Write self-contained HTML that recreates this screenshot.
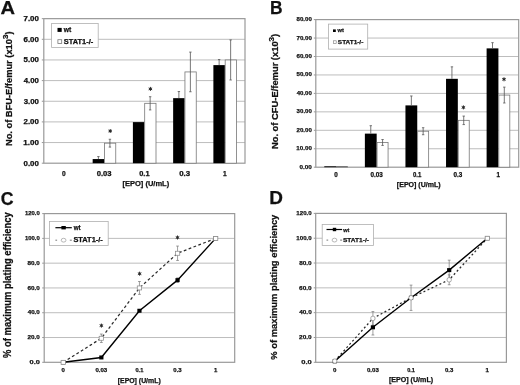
<!DOCTYPE html><html><head><meta charset="utf-8"><style>html,body{margin:0;padding:0;background:#fff;overflow:hidden}svg{display:block;filter:blur(0.3px)}text{font-family:"Liberation Sans",sans-serif;font-weight:bold;fill:#111;stroke:#111;stroke-width:0.25px}</style></head><body>
<svg width="520" height="385" viewBox="0 0 520 385">
<rect width="520" height="385" fill="#fff"/>
<text x="0.45" y="13.60" font-size="17.8" textLength="14.53" lengthAdjust="spacingAndGlyphs" fill="#000" >A</text>
<text x="269.99" y="13.90" font-size="18" textLength="12.55" lengthAdjust="spacingAndGlyphs" fill="#000" >B</text>
<text x="0.72" y="204.50" font-size="18.9" textLength="12.81" lengthAdjust="spacingAndGlyphs" fill="#000" >C</text>
<text x="269.18" y="204.00" font-size="18" textLength="13.66" lengthAdjust="spacingAndGlyphs" fill="#000" >D</text>
<line x1="43.80" y1="39.30" x2="245.00" y2="39.30" stroke="#bdbdbd" stroke-width="1"/>
<line x1="43.80" y1="59.95" x2="245.00" y2="59.95" stroke="#bdbdbd" stroke-width="1"/>
<line x1="43.80" y1="80.60" x2="245.00" y2="80.60" stroke="#bdbdbd" stroke-width="1"/>
<line x1="43.80" y1="101.25" x2="245.00" y2="101.25" stroke="#bdbdbd" stroke-width="1"/>
<line x1="43.80" y1="121.90" x2="245.00" y2="121.90" stroke="#bdbdbd" stroke-width="1"/>
<line x1="43.80" y1="142.55" x2="245.00" y2="142.55" stroke="#bdbdbd" stroke-width="1"/>
<line x1="41.80" y1="18.65" x2="43.80" y2="18.65" stroke="#999999" stroke-width="1"/>
<line x1="41.80" y1="39.30" x2="43.80" y2="39.30" stroke="#999999" stroke-width="1"/>
<line x1="41.80" y1="59.95" x2="43.80" y2="59.95" stroke="#999999" stroke-width="1"/>
<line x1="41.80" y1="80.60" x2="43.80" y2="80.60" stroke="#999999" stroke-width="1"/>
<line x1="41.80" y1="101.25" x2="43.80" y2="101.25" stroke="#999999" stroke-width="1"/>
<line x1="41.80" y1="121.90" x2="43.80" y2="121.90" stroke="#999999" stroke-width="1"/>
<line x1="41.80" y1="142.55" x2="43.80" y2="142.55" stroke="#999999" stroke-width="1"/>
<line x1="41.80" y1="163.20" x2="43.80" y2="163.20" stroke="#999999" stroke-width="1"/>
<rect x="43.80" y="18.65" width="201.20" height="144.55" fill="none" stroke="#999999" stroke-width="1.2"/>
<text x="23.54" y="165.57" font-size="6.6" textLength="15.33" lengthAdjust="spacingAndGlyphs" fill="#111" >0.00</text>
<text x="23.35" y="144.92" font-size="6.6" textLength="15.53" lengthAdjust="spacingAndGlyphs" fill="#111" >1.00</text>
<text x="23.58" y="124.27" font-size="6.6" textLength="15.29" lengthAdjust="spacingAndGlyphs" fill="#111" >2.00</text>
<text x="23.67" y="103.62" font-size="6.6" textLength="15.20" lengthAdjust="spacingAndGlyphs" fill="#111" >3.00</text>
<text x="23.73" y="82.97" font-size="6.6" textLength="15.14" lengthAdjust="spacingAndGlyphs" fill="#111" >4.00</text>
<text x="23.61" y="62.32" font-size="6.6" textLength="15.26" lengthAdjust="spacingAndGlyphs" fill="#111" >5.00</text>
<text x="23.56" y="41.67" font-size="6.6" textLength="15.31" lengthAdjust="spacingAndGlyphs" fill="#111" >6.00</text>
<text x="23.51" y="21.02" font-size="6.6" textLength="15.36" lengthAdjust="spacingAndGlyphs" fill="#111" >7.00</text>
<rect x="92.66" y="159.07" width="11.50" height="4.13" fill="#000"/>
<rect x="104.46" y="143.17" width="11.30" height="20.03" fill="#fff" stroke="#777" stroke-width="0.8"/>
<rect x="132.90" y="122.11" width="11.50" height="41.09" fill="#000"/>
<rect x="144.70" y="103.31" width="11.30" height="59.88" fill="#fff" stroke="#777" stroke-width="0.8"/>
<rect x="173.14" y="98.15" width="11.50" height="65.05" fill="#000"/>
<rect x="184.94" y="71.93" width="11.30" height="91.27" fill="#fff" stroke="#777" stroke-width="0.8"/>
<rect x="213.38" y="65.11" width="11.50" height="98.09" fill="#000"/>
<rect x="225.18" y="59.95" width="11.30" height="103.25" fill="#fff" stroke="#777" stroke-width="0.8"/>
<line x1="98.41" y1="156.59" x2="98.41" y2="159.07" stroke="#555" stroke-width="0.8"/>
<line x1="97.21" y1="156.59" x2="99.61" y2="156.59" stroke="#555" stroke-width="0.8"/>
<line x1="109.91" y1="139.25" x2="109.91" y2="147.09" stroke="#555" stroke-width="0.8"/>
<line x1="108.71" y1="139.25" x2="111.11" y2="139.25" stroke="#555" stroke-width="0.8"/>
<line x1="108.71" y1="147.09" x2="111.11" y2="147.09" stroke="#555" stroke-width="0.8"/>
<line x1="150.15" y1="96.71" x2="150.15" y2="109.92" stroke="#555" stroke-width="0.8"/>
<line x1="148.95" y1="96.71" x2="151.35" y2="96.71" stroke="#555" stroke-width="0.8"/>
<line x1="148.95" y1="109.92" x2="151.35" y2="109.92" stroke="#555" stroke-width="0.8"/>
<line x1="178.89" y1="91.54" x2="178.89" y2="98.15" stroke="#555" stroke-width="0.8"/>
<line x1="177.69" y1="91.54" x2="180.09" y2="91.54" stroke="#555" stroke-width="0.8"/>
<line x1="190.39" y1="52.10" x2="190.39" y2="91.75" stroke="#555" stroke-width="0.8"/>
<line x1="189.19" y1="52.10" x2="191.59" y2="52.10" stroke="#555" stroke-width="0.8"/>
<line x1="189.19" y1="91.75" x2="191.59" y2="91.75" stroke="#555" stroke-width="0.8"/>
<line x1="219.13" y1="59.54" x2="219.13" y2="65.11" stroke="#555" stroke-width="0.8"/>
<line x1="217.93" y1="59.54" x2="220.33" y2="59.54" stroke="#555" stroke-width="0.8"/>
<line x1="230.63" y1="39.92" x2="230.63" y2="79.98" stroke="#555" stroke-width="0.8"/>
<line x1="229.43" y1="39.92" x2="231.83" y2="39.92" stroke="#555" stroke-width="0.8"/>
<line x1="229.43" y1="79.98" x2="231.83" y2="79.98" stroke="#555" stroke-width="0.8"/>
<g stroke="#2a2a2a" stroke-width="1.0"><line x1="110.20" y1="129.00" x2="110.20" y2="133.00"/><line x1="108.46" y1="130.00" x2="111.94" y2="132.00"/><line x1="108.46" y1="132.00" x2="111.94" y2="130.00"/></g>
<circle cx="110.20" cy="131.00" r="1.0" fill="#2a2a2a"/>
<g stroke="#2a2a2a" stroke-width="1.0"><line x1="150.40" y1="86.90" x2="150.40" y2="90.90"/><line x1="148.66" y1="87.90" x2="152.14" y2="89.90"/><line x1="148.66" y1="89.90" x2="152.14" y2="87.90"/></g>
<circle cx="150.40" cy="88.90" r="1.0" fill="#2a2a2a"/>
<text x="62.09" y="176.00" font-size="6.6" textLength="3.67" lengthAdjust="spacingAndGlyphs" fill="#111" >0</text>
<text x="96.71" y="176.00" font-size="6.6" textLength="14.88" lengthAdjust="spacingAndGlyphs" fill="#111" >0.03</text>
<text x="139.21" y="176.00" font-size="6.6" textLength="10.30" lengthAdjust="spacingAndGlyphs" fill="#111" >0.1</text>
<text x="179.18" y="176.00" font-size="6.6" textLength="10.89" lengthAdjust="spacingAndGlyphs" fill="#111" >0.3</text>
<text x="222.93" y="176.00" font-size="6.6" textLength="3.67" lengthAdjust="spacingAndGlyphs" fill="#111" >1</text>
<text x="122.43" y="186.00" font-size="7.5" textLength="46.80" lengthAdjust="spacingAndGlyphs" fill="#111" >[EPO] (U/mL)</text>
<rect x="51.6" y="23.5" width="46.6" height="24.0" fill="#fff" stroke="#b0b0b0" stroke-width="0.8"/>
<rect x="57.5" y="27.9" width="4.2" height="4.0" fill="#000"/>
<rect x="57.9" y="39.7" width="3.8" height="3.7" fill="#fff" stroke="#777" stroke-width="0.8"/>
<text x="63.87" y="31.90" font-size="6.6" textLength="7.46" lengthAdjust="spacingAndGlyphs" fill="#111" >wt</text>
<text x="63.89" y="43.60" font-size="6.3" textLength="29.34" lengthAdjust="spacingAndGlyphs" fill="#111" >STAT1-/-</text>
<g transform="translate(11.70,145.45) rotate(-90) scale(1.0831,1)"><text x="-0.58" y="0" font-size="8.6">No. of BFU-E/femur (x10<tspan font-size="7.4" dy="-3.8">3</tspan><tspan dy="3.8">)</tspan></text></g>
<line x1="315.80" y1="38.05" x2="518.70" y2="38.05" stroke="#bdbdbd" stroke-width="1"/>
<line x1="315.80" y1="56.50" x2="518.70" y2="56.50" stroke="#bdbdbd" stroke-width="1"/>
<line x1="315.80" y1="74.95" x2="518.70" y2="74.95" stroke="#bdbdbd" stroke-width="1"/>
<line x1="315.80" y1="93.40" x2="518.70" y2="93.40" stroke="#bdbdbd" stroke-width="1"/>
<line x1="315.80" y1="111.85" x2="518.70" y2="111.85" stroke="#bdbdbd" stroke-width="1"/>
<line x1="315.80" y1="130.30" x2="518.70" y2="130.30" stroke="#bdbdbd" stroke-width="1"/>
<line x1="315.80" y1="148.75" x2="518.70" y2="148.75" stroke="#bdbdbd" stroke-width="1"/>
<line x1="313.80" y1="19.60" x2="315.80" y2="19.60" stroke="#999999" stroke-width="1"/>
<line x1="313.80" y1="38.05" x2="315.80" y2="38.05" stroke="#999999" stroke-width="1"/>
<line x1="313.80" y1="56.50" x2="315.80" y2="56.50" stroke="#999999" stroke-width="1"/>
<line x1="313.80" y1="74.95" x2="315.80" y2="74.95" stroke="#999999" stroke-width="1"/>
<line x1="313.80" y1="93.40" x2="315.80" y2="93.40" stroke="#999999" stroke-width="1"/>
<line x1="313.80" y1="111.85" x2="315.80" y2="111.85" stroke="#999999" stroke-width="1"/>
<line x1="313.80" y1="130.30" x2="315.80" y2="130.30" stroke="#999999" stroke-width="1"/>
<line x1="313.80" y1="148.75" x2="315.80" y2="148.75" stroke="#999999" stroke-width="1"/>
<line x1="313.80" y1="167.20" x2="315.80" y2="167.20" stroke="#999999" stroke-width="1"/>
<rect x="315.80" y="19.60" width="202.90" height="147.60" fill="none" stroke="#999999" stroke-width="1.2"/>
<text x="299.50" y="168.72" font-size="6.15" textLength="12.41" lengthAdjust="spacingAndGlyphs" fill="#111" >0.00</text>
<text x="296.36" y="150.27" font-size="6.15" textLength="15.55" lengthAdjust="spacingAndGlyphs" fill="#111" >10.00</text>
<text x="296.54" y="131.82" font-size="6.15" textLength="15.36" lengthAdjust="spacingAndGlyphs" fill="#111" >20.00</text>
<text x="296.61" y="113.37" font-size="6.15" textLength="15.29" lengthAdjust="spacingAndGlyphs" fill="#111" >30.00</text>
<text x="296.66" y="94.92" font-size="6.15" textLength="15.24" lengthAdjust="spacingAndGlyphs" fill="#111" >40.00</text>
<text x="296.56" y="76.47" font-size="6.15" textLength="15.34" lengthAdjust="spacingAndGlyphs" fill="#111" >50.00</text>
<text x="296.52" y="58.02" font-size="6.15" textLength="15.38" lengthAdjust="spacingAndGlyphs" fill="#111" >60.00</text>
<text x="296.49" y="39.57" font-size="6.15" textLength="15.42" lengthAdjust="spacingAndGlyphs" fill="#111" >70.00</text>
<text x="296.56" y="21.12" font-size="6.15" textLength="15.35" lengthAdjust="spacingAndGlyphs" fill="#111" >80.00</text>
<rect x="324.29" y="166.28" width="11.80" height="0.92" fill="#000"/>
<rect x="336.49" y="166.46" width="11.00" height="0.74" fill="#fff" stroke="#777" stroke-width="0.8"/>
<rect x="364.87" y="133.62" width="11.80" height="33.58" fill="#000"/>
<rect x="377.07" y="142.48" width="11.00" height="24.72" fill="#fff" stroke="#777" stroke-width="0.8"/>
<rect x="405.45" y="105.39" width="11.80" height="61.81" fill="#000"/>
<rect x="417.65" y="131.22" width="11.00" height="35.98" fill="#fff" stroke="#777" stroke-width="0.8"/>
<rect x="446.03" y="78.82" width="11.80" height="88.38" fill="#000"/>
<rect x="458.23" y="120.34" width="11.00" height="46.86" fill="#fff" stroke="#777" stroke-width="0.8"/>
<rect x="486.61" y="48.38" width="11.80" height="118.82" fill="#000"/>
<rect x="498.81" y="95.06" width="11.00" height="72.14" fill="#fff" stroke="#777" stroke-width="0.8"/>
<line x1="370.77" y1="125.69" x2="370.77" y2="133.62" stroke="#555" stroke-width="0.8"/>
<line x1="369.57" y1="125.69" x2="371.97" y2="125.69" stroke="#555" stroke-width="0.8"/>
<line x1="382.57" y1="139.52" x2="382.57" y2="145.43" stroke="#555" stroke-width="0.8"/>
<line x1="381.37" y1="139.52" x2="383.77" y2="139.52" stroke="#555" stroke-width="0.8"/>
<line x1="381.37" y1="145.43" x2="383.77" y2="145.43" stroke="#555" stroke-width="0.8"/>
<line x1="411.35" y1="95.98" x2="411.35" y2="105.39" stroke="#555" stroke-width="0.8"/>
<line x1="410.15" y1="95.98" x2="412.55" y2="95.98" stroke="#555" stroke-width="0.8"/>
<line x1="423.15" y1="127.72" x2="423.15" y2="134.73" stroke="#555" stroke-width="0.8"/>
<line x1="421.95" y1="127.72" x2="424.35" y2="127.72" stroke="#555" stroke-width="0.8"/>
<line x1="421.95" y1="134.73" x2="424.35" y2="134.73" stroke="#555" stroke-width="0.8"/>
<line x1="451.93" y1="66.83" x2="451.93" y2="78.82" stroke="#555" stroke-width="0.8"/>
<line x1="450.73" y1="66.83" x2="453.13" y2="66.83" stroke="#555" stroke-width="0.8"/>
<line x1="463.73" y1="116.09" x2="463.73" y2="124.58" stroke="#555" stroke-width="0.8"/>
<line x1="462.53" y1="116.09" x2="464.93" y2="116.09" stroke="#555" stroke-width="0.8"/>
<line x1="462.53" y1="124.58" x2="464.93" y2="124.58" stroke="#555" stroke-width="0.8"/>
<line x1="492.51" y1="42.66" x2="492.51" y2="48.38" stroke="#555" stroke-width="0.8"/>
<line x1="491.31" y1="42.66" x2="493.71" y2="42.66" stroke="#555" stroke-width="0.8"/>
<line x1="504.31" y1="87.13" x2="504.31" y2="102.99" stroke="#555" stroke-width="0.8"/>
<line x1="503.11" y1="87.13" x2="505.51" y2="87.13" stroke="#555" stroke-width="0.8"/>
<line x1="503.11" y1="102.99" x2="505.51" y2="102.99" stroke="#555" stroke-width="0.8"/>
<g stroke="#2a2a2a" stroke-width="1.0"><line x1="463.40" y1="105.40" x2="463.40" y2="109.40"/><line x1="461.66" y1="106.40" x2="465.14" y2="108.40"/><line x1="461.66" y1="108.40" x2="465.14" y2="106.40"/></g>
<circle cx="463.40" cy="107.40" r="1.0" fill="#2a2a2a"/>
<g stroke="#2a2a2a" stroke-width="1.0"><line x1="504.00" y1="77.30" x2="504.00" y2="81.30"/><line x1="502.26" y1="78.30" x2="505.74" y2="80.30"/><line x1="502.26" y1="80.30" x2="505.74" y2="78.30"/></g>
<circle cx="504.00" cy="79.30" r="1.0" fill="#2a2a2a"/>
<text x="334.34" y="176.70" font-size="6.3" textLength="3.50" lengthAdjust="spacingAndGlyphs" fill="#111" >0</text>
<text x="370.52" y="176.70" font-size="6.3" textLength="12.28" lengthAdjust="spacingAndGlyphs" fill="#111" >0.03</text>
<text x="413.06" y="176.70" font-size="6.3" textLength="8.30" lengthAdjust="spacingAndGlyphs" fill="#111" >0.1</text>
<text x="453.43" y="176.70" font-size="6.3" textLength="8.78" lengthAdjust="spacingAndGlyphs" fill="#111" >0.3</text>
<text x="496.55" y="176.70" font-size="6.3" textLength="3.50" lengthAdjust="spacingAndGlyphs" fill="#111" >1</text>
<text x="396.86" y="187.00" font-size="7.0" textLength="43.74" lengthAdjust="spacingAndGlyphs" fill="#111" >[EPO] (U/mL)</text>
<rect x="328.4" y="24.1" width="39.3" height="25.0" fill="#fff" stroke="#b0b0b0" stroke-width="0.8"/>
<rect x="333.0" y="29.4" width="2.8" height="2.6" fill="#000"/>
<rect x="333.5" y="40.8" width="2.7" height="2.8" fill="#fff" stroke="#777" stroke-width="0.6"/>
<text x="337.57" y="31.90" font-size="6.2" textLength="6.35" lengthAdjust="spacingAndGlyphs" fill="#111" >wt</text>
<text x="337.87" y="44.20" font-size="6.0" textLength="25.43" lengthAdjust="spacingAndGlyphs" fill="#111" >STAT1-/-</text>
<g transform="translate(277.70,148.45) rotate(-90) scale(1.0777,1)"><text x="-0.58" y="0" font-size="8.7">No. of CFU-E/femur (x10<tspan font-size="7.4" dy="-3.6">3</tspan><tspan dy="3.6">)</tspan></text></g>
<line x1="44.20" y1="238.38" x2="234.70" y2="238.38" stroke="#bdbdbd" stroke-width="1"/>
<line x1="44.20" y1="263.17" x2="234.70" y2="263.17" stroke="#bdbdbd" stroke-width="1"/>
<line x1="44.20" y1="287.95" x2="234.70" y2="287.95" stroke="#bdbdbd" stroke-width="1"/>
<line x1="44.20" y1="312.73" x2="234.70" y2="312.73" stroke="#bdbdbd" stroke-width="1"/>
<line x1="44.20" y1="337.52" x2="234.70" y2="337.52" stroke="#bdbdbd" stroke-width="1"/>
<line x1="42.20" y1="213.60" x2="44.20" y2="213.60" stroke="#999999" stroke-width="1"/>
<line x1="42.20" y1="238.38" x2="44.20" y2="238.38" stroke="#999999" stroke-width="1"/>
<line x1="42.20" y1="263.17" x2="44.20" y2="263.17" stroke="#999999" stroke-width="1"/>
<line x1="42.20" y1="287.95" x2="44.20" y2="287.95" stroke="#999999" stroke-width="1"/>
<line x1="42.20" y1="312.73" x2="44.20" y2="312.73" stroke="#999999" stroke-width="1"/>
<line x1="42.20" y1="337.52" x2="44.20" y2="337.52" stroke="#999999" stroke-width="1"/>
<line x1="42.20" y1="362.30" x2="44.20" y2="362.30" stroke="#999999" stroke-width="1"/>
<rect x="44.20" y="213.60" width="190.50" height="148.70" fill="none" stroke="#999999" stroke-width="1.2"/>
<text x="29.56" y="363.96" font-size="6.0" textLength="10.30" lengthAdjust="spacingAndGlyphs" fill="#111" >0.0</text>
<text x="27.53" y="339.18" font-size="6.0" textLength="12.28" lengthAdjust="spacingAndGlyphs" fill="#111" >20.0</text>
<text x="27.66" y="314.40" font-size="6.0" textLength="12.15" lengthAdjust="spacingAndGlyphs" fill="#111" >40.0</text>
<text x="27.52" y="289.61" font-size="6.0" textLength="12.29" lengthAdjust="spacingAndGlyphs" fill="#111" >60.0</text>
<text x="27.55" y="264.83" font-size="6.0" textLength="12.26" lengthAdjust="spacingAndGlyphs" fill="#111" >80.0</text>
<text x="24.98" y="240.05" font-size="6.0" textLength="14.82" lengthAdjust="spacingAndGlyphs" fill="#111" >100.0</text>
<text x="24.98" y="215.26" font-size="6.0" textLength="14.82" lengthAdjust="spacingAndGlyphs" fill="#111" >120.0</text>
<line x1="101.35" y1="334.05" x2="101.35" y2="342.47" stroke="#777" stroke-width="0.7"/>
<line x1="99.95" y1="334.05" x2="102.75" y2="334.05" stroke="#777" stroke-width="0.7"/>
<line x1="99.95" y1="342.47" x2="102.75" y2="342.47" stroke="#777" stroke-width="0.7"/>
<line x1="139.45" y1="281.51" x2="139.45" y2="294.39" stroke="#777" stroke-width="0.7"/>
<line x1="138.05" y1="281.51" x2="140.85" y2="281.51" stroke="#777" stroke-width="0.7"/>
<line x1="138.05" y1="294.39" x2="140.85" y2="294.39" stroke="#777" stroke-width="0.7"/>
<line x1="177.55" y1="246.07" x2="177.55" y2="260.44" stroke="#777" stroke-width="0.7"/>
<line x1="176.15" y1="246.07" x2="178.95" y2="246.07" stroke="#777" stroke-width="0.7"/>
<line x1="176.15" y1="260.44" x2="178.95" y2="260.44" stroke="#777" stroke-width="0.7"/>
<line x1="177.55" y1="277.91" x2="177.55" y2="282.37" stroke="#777" stroke-width="0.7"/>
<line x1="176.15" y1="277.91" x2="178.95" y2="277.91" stroke="#777" stroke-width="0.7"/>
<line x1="176.15" y1="282.37" x2="178.95" y2="282.37" stroke="#777" stroke-width="0.7"/>
<polyline points="63.25,362.30 101.35,338.26 139.45,287.95 177.55,253.25 215.65,238.38" fill="none" stroke="#2a2a2a" stroke-width="1.25" stroke-dasharray="2.8,2.4"/>
<polyline points="63.25,362.30 101.35,357.47 139.45,310.75 177.55,280.14 215.65,238.38" fill="none" stroke="#000" stroke-width="1.4"/>
<rect x="61.15" y="360.30" width="4.2" height="4.0" fill="#000"/>
<rect x="99.25" y="355.47" width="4.2" height="4.0" fill="#000"/>
<rect x="137.35" y="308.75" width="4.2" height="4.0" fill="#000"/>
<rect x="175.45" y="278.14" width="4.2" height="4.0" fill="#000"/>
<rect x="213.55" y="236.38" width="4.2" height="4.0" fill="#000"/>
<rect x="61.05" y="360.30" width="4.4" height="4.0" fill="#fff" stroke="#888" stroke-width="0.7"/>
<rect x="99.15" y="336.26" width="4.4" height="4.0" fill="#fff" stroke="#888" stroke-width="0.7"/>
<rect x="137.25" y="285.95" width="4.4" height="4.0" fill="#fff" stroke="#888" stroke-width="0.7"/>
<rect x="175.35" y="251.25" width="4.4" height="4.0" fill="#fff" stroke="#888" stroke-width="0.7"/>
<rect x="213.45" y="236.38" width="4.4" height="4.0" fill="#fff" stroke="#888" stroke-width="0.7"/>
<g stroke="#2a2a2a" stroke-width="1.0"><line x1="101.40" y1="323.60" x2="101.40" y2="327.60"/><line x1="99.66" y1="324.60" x2="103.14" y2="326.60"/><line x1="99.66" y1="326.60" x2="103.14" y2="324.60"/></g>
<circle cx="101.40" cy="325.60" r="1.0" fill="#2a2a2a"/>
<g stroke="#2a2a2a" stroke-width="1.0"><line x1="139.60" y1="271.70" x2="139.60" y2="275.70"/><line x1="137.86" y1="272.70" x2="141.34" y2="274.70"/><line x1="137.86" y1="274.70" x2="141.34" y2="272.70"/></g>
<circle cx="139.60" cy="273.70" r="1.0" fill="#2a2a2a"/>
<g stroke="#2a2a2a" stroke-width="1.0"><line x1="177.50" y1="235.50" x2="177.50" y2="239.50"/><line x1="175.76" y1="236.50" x2="179.24" y2="238.50"/><line x1="175.76" y1="238.50" x2="179.24" y2="236.50"/></g>
<circle cx="177.50" cy="237.50" r="1.0" fill="#2a2a2a"/>
<text x="61.59" y="371.80" font-size="6.0" textLength="3.34" lengthAdjust="spacingAndGlyphs" fill="#111" >0</text>
<text x="95.41" y="371.80" font-size="6.0" textLength="11.86" lengthAdjust="spacingAndGlyphs" fill="#111" >0.03</text>
<text x="135.48" y="371.80" font-size="6.0" textLength="7.88" lengthAdjust="spacingAndGlyphs" fill="#111" >0.1</text>
<text x="173.36" y="371.80" font-size="6.0" textLength="8.35" lengthAdjust="spacingAndGlyphs" fill="#111" >0.3</text>
<text x="213.88" y="371.80" font-size="6.0" textLength="3.34" lengthAdjust="spacingAndGlyphs" fill="#111" >1</text>
<text x="117.76" y="382.60" font-size="6.9" textLength="42.93" lengthAdjust="spacingAndGlyphs" fill="#111" >[EPO] (U/mL)</text>
<rect x="49.4" y="221.4" width="58.80" height="24.10" fill="#fff" stroke="#b0b0b0" stroke-width="0.8"/>
<line x1="55.4" y1="227.7" x2="71.8" y2="227.7" stroke="#000" stroke-width="1.2"/>
<rect x="61.40" y="226.00" width="4.40" height="3.4" fill="#000"/>
<line x1="55.4" y1="240.2" x2="57.10" y2="240.2" stroke="#777" stroke-width="1"/>
<line x1="69.80" y1="240.2" x2="71.8" y2="240.2" stroke="#777" stroke-width="1"/>
<ellipse cx="63.60" cy="240.20" rx="2.4" ry="1.9" fill="#fff" stroke="#999" stroke-width="0.7"/>
<text x="73.67" y="229.80" font-size="6.6" textLength="6.86" lengthAdjust="spacingAndGlyphs" fill="#111" >wt</text>
<text x="73.44" y="242.30" font-size="6.6" textLength="29.29" lengthAdjust="spacingAndGlyphs" fill="#111" >STAT1-/-</text>
<g transform="translate(10.70,357.65) rotate(-90) scale(0.9407,1)"><text x="-0.25" y="0" font-size="10.0">% of maximum plating efficiency</text></g>
<line x1="315.70" y1="238.22" x2="506.40" y2="238.22" stroke="#bdbdbd" stroke-width="1"/>
<line x1="315.70" y1="263.03" x2="506.40" y2="263.03" stroke="#bdbdbd" stroke-width="1"/>
<line x1="315.70" y1="287.85" x2="506.40" y2="287.85" stroke="#bdbdbd" stroke-width="1"/>
<line x1="315.70" y1="312.67" x2="506.40" y2="312.67" stroke="#bdbdbd" stroke-width="1"/>
<line x1="315.70" y1="337.48" x2="506.40" y2="337.48" stroke="#bdbdbd" stroke-width="1"/>
<line x1="313.70" y1="213.40" x2="315.70" y2="213.40" stroke="#999999" stroke-width="1"/>
<line x1="313.70" y1="238.22" x2="315.70" y2="238.22" stroke="#999999" stroke-width="1"/>
<line x1="313.70" y1="263.03" x2="315.70" y2="263.03" stroke="#999999" stroke-width="1"/>
<line x1="313.70" y1="287.85" x2="315.70" y2="287.85" stroke="#999999" stroke-width="1"/>
<line x1="313.70" y1="312.67" x2="315.70" y2="312.67" stroke="#999999" stroke-width="1"/>
<line x1="313.70" y1="337.48" x2="315.70" y2="337.48" stroke="#999999" stroke-width="1"/>
<line x1="313.70" y1="362.30" x2="315.70" y2="362.30" stroke="#999999" stroke-width="1"/>
<rect x="315.70" y="213.40" width="190.70" height="148.90" fill="none" stroke="#999999" stroke-width="1.2"/>
<text x="301.25" y="364.02" font-size="6.15" textLength="10.51" lengthAdjust="spacingAndGlyphs" fill="#111" >0.0</text>
<text x="299.13" y="339.20" font-size="6.15" textLength="12.59" lengthAdjust="spacingAndGlyphs" fill="#111" >20.0</text>
<text x="299.25" y="314.38" font-size="6.15" textLength="12.46" lengthAdjust="spacingAndGlyphs" fill="#111" >40.0</text>
<text x="299.11" y="289.57" font-size="6.15" textLength="12.60" lengthAdjust="spacingAndGlyphs" fill="#111" >60.0</text>
<text x="299.15" y="264.75" font-size="6.15" textLength="12.57" lengthAdjust="spacingAndGlyphs" fill="#111" >80.0</text>
<text x="296.36" y="239.93" font-size="6.15" textLength="15.34" lengthAdjust="spacingAndGlyphs" fill="#111" >100.0</text>
<text x="296.36" y="215.12" font-size="6.15" textLength="15.34" lengthAdjust="spacingAndGlyphs" fill="#111" >120.0</text>
<line x1="372.91" y1="311.55" x2="372.91" y2="325.20" stroke="#777" stroke-width="0.7"/>
<line x1="371.51" y1="311.55" x2="374.31" y2="311.55" stroke="#777" stroke-width="0.7"/>
<line x1="371.51" y1="325.20" x2="374.31" y2="325.20" stroke="#777" stroke-width="0.7"/>
<line x1="372.91" y1="319.62" x2="372.91" y2="335.00" stroke="#777" stroke-width="0.7"/>
<line x1="371.51" y1="319.62" x2="374.31" y2="319.62" stroke="#777" stroke-width="0.7"/>
<line x1="371.51" y1="335.00" x2="374.31" y2="335.00" stroke="#777" stroke-width="0.7"/>
<line x1="411.05" y1="285.12" x2="411.05" y2="310.43" stroke="#777" stroke-width="0.7"/>
<line x1="409.65" y1="285.12" x2="412.45" y2="285.12" stroke="#777" stroke-width="0.7"/>
<line x1="409.65" y1="310.43" x2="412.45" y2="310.43" stroke="#777" stroke-width="0.7"/>
<line x1="449.19" y1="274.82" x2="449.19" y2="284.75" stroke="#777" stroke-width="0.7"/>
<line x1="447.79" y1="274.82" x2="450.59" y2="274.82" stroke="#777" stroke-width="0.7"/>
<line x1="447.79" y1="284.75" x2="450.59" y2="284.75" stroke="#777" stroke-width="0.7"/>
<line x1="449.19" y1="260.18" x2="449.19" y2="280.03" stroke="#777" stroke-width="0.7"/>
<line x1="447.79" y1="260.18" x2="450.59" y2="260.18" stroke="#777" stroke-width="0.7"/>
<line x1="447.79" y1="280.03" x2="450.59" y2="280.03" stroke="#777" stroke-width="0.7"/>
<polyline points="334.77,361.06 372.91,318.37 411.05,297.78 449.19,279.78 487.33,238.22" fill="none" stroke="#2a2a2a" stroke-width="1.25" stroke-dasharray="2.0,2.4"/>
<polyline points="334.77,361.31 372.91,327.31 411.05,297.78 449.19,270.11 487.33,238.22" fill="none" stroke="#000" stroke-width="1.4"/>
<rect x="332.67" y="359.31" width="4.2" height="4.0" fill="#000"/>
<rect x="370.81" y="325.31" width="4.2" height="4.0" fill="#000"/>
<rect x="408.95" y="295.78" width="4.2" height="4.0" fill="#000"/>
<rect x="447.09" y="268.11" width="4.2" height="4.0" fill="#000"/>
<rect x="485.23" y="236.22" width="4.2" height="4.0" fill="#000"/>
<rect x="332.67" y="358.96" width="4.2" height="4.2" rx="1.6" fill="#fff" stroke="#888" stroke-width="0.7"/>
<rect x="370.81" y="316.27" width="4.2" height="4.2" rx="1.6" fill="#fff" stroke="#888" stroke-width="0.7"/>
<rect x="408.95" y="295.68" width="4.2" height="4.2" rx="1.6" fill="#fff" stroke="#888" stroke-width="0.7"/>
<rect x="447.09" y="277.68" width="4.2" height="4.2" rx="1.6" fill="#fff" stroke="#888" stroke-width="0.7"/>
<rect x="485.13" y="236.22" width="4.4" height="4.0" fill="#fff" stroke="#888" stroke-width="0.7"/>
<text x="333.06" y="372.00" font-size="6.15" textLength="3.42" lengthAdjust="spacingAndGlyphs" fill="#111" >0</text>
<text x="366.97" y="372.00" font-size="6.15" textLength="11.86" lengthAdjust="spacingAndGlyphs" fill="#111" >0.03</text>
<text x="407.13" y="372.00" font-size="6.15" textLength="7.78" lengthAdjust="spacingAndGlyphs" fill="#111" >0.1</text>
<text x="445.00" y="372.00" font-size="6.15" textLength="8.35" lengthAdjust="spacingAndGlyphs" fill="#111" >0.3</text>
<text x="485.51" y="372.00" font-size="6.15" textLength="3.42" lengthAdjust="spacingAndGlyphs" fill="#111" >1</text>
<text x="388.95" y="382.30" font-size="7.0" textLength="44.15" lengthAdjust="spacingAndGlyphs" fill="#111" >[EPO] (U/mL)</text>
<rect x="322.2" y="224.4" width="51.30" height="21.10" fill="#fff" stroke="#b0b0b0" stroke-width="0.8"/>
<line x1="326.5" y1="229.5" x2="342.1" y2="229.5" stroke="#000" stroke-width="1.2"/>
<rect x="332.80" y="227.80" width="3.40" height="3.4" fill="#000"/>
<line x1="326.5" y1="240.1" x2="328.20" y2="240.1" stroke="#777" stroke-width="1"/>
<line x1="340.10" y1="240.1" x2="342.1" y2="240.1" stroke="#777" stroke-width="1"/>
<ellipse cx="334.50" cy="240.10" rx="2.4" ry="1.9" fill="#fff" stroke="#999" stroke-width="0.7"/>
<text x="343.17" y="231.60" font-size="6.2" textLength="6.15" lengthAdjust="spacingAndGlyphs" fill="#111" >wt</text>
<text x="342.97" y="242.20" font-size="6.2" textLength="25.93" lengthAdjust="spacingAndGlyphs" fill="#111" >STAT1-/-</text>
<g transform="translate(276.50,359.45) rotate(-90) scale(0.9546,1)"><text x="-0.24" y="0" font-size="9.8">% of maximum plating efficiency</text></g>
</svg></body></html>
